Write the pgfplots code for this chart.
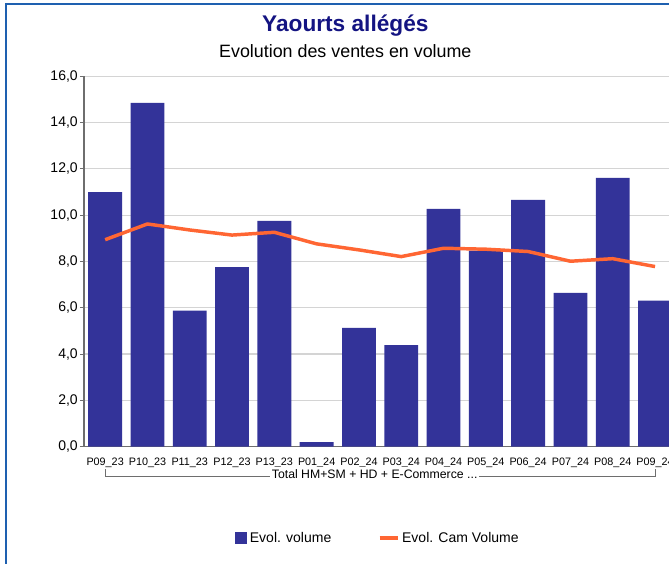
\documentclass[border=0pt]{standalone}
\usepackage{fontspec}
\setmainfont{Liberation Sans}
\usepackage{pgfplots}
\pgfplotsset{compat=1.18}
\definecolor{barblue}{RGB}{51,51,153}
\definecolor{lineorange}{RGB}{255,102,51}
\definecolor{titleblue}{RGB}{20,20,130}
\definecolor{frameblue}{RGB}{30,96,176}
\definecolor{gridgray}{RGB}{212,212,212}
\definecolor{axisgray}{RGB}{110,110,110}
\begin{document}
\begin{tikzpicture}
\useasboundingbox (0,0) rectangle (501.75pt,423pt);
\clip (0,0) rectangle (501.75pt,423pt);
\begin{axis}[
  at={(63pt,88pt)}, anchor=south west,
  scale only axis, width=438.75pt, height=277.8pt,
  xmin=-0.5, xmax=13.33, ymin=0, ymax=16,
  xtick={0,...,13},
  xticklabels={P09\_23,P10\_23,P11\_23,P12\_23,P13\_23,P01\_24,P02\_24,P03\_24,P04\_24,P05\_24,P06\_24,P07\_24,P08\_24,P09\_24},
  ytick={0,2,...,16},
  axis x line*=bottom, axis y line*=left,
  axis line style={-, axisgray, line width=0.9pt},
  x tick style={draw=none},
  y tick style={axisgray, line width=0.6pt},
  tick align=outside, major tick length=3pt,
  ymajorgrids, grid style={gridgray, line width=0.9pt},
  /pgf/number format/.cd, fixed, fixed zerofill, precision=1, use comma, assume math mode=true,
  /pgfplots/.cd,
  yticklabel style={font=\fontsize{10.5}{12}\selectfont, inner sep=1.5pt},
  xticklabel style={font=\fontsize{8.1}{9}\selectfont, yshift=-2pt},
  legend style={at={(0.503,-0.2465)}, anchor=center, draw=none, fill=none,
    font=\fontsize{10.5}{12}\selectfont, legend columns=2,
    /tikz/every even column/.append style={column sep=33pt}},
  clip=true,
]
\addplot[ybar, bar width=0.8, fill=barblue, draw=none,
  legend image code/.code={\fill[barblue] (-2.5pt,-4.5pt) rectangle (6.5pt,4.5pt);}]
  coordinates {(0,11.0) (1,14.85) (2,5.88) (3,7.76) (4,9.75) (5,0.2) (6,5.13) (7,4.39) (8,10.27) (9,8.47) (10,10.66) (11,6.64) (12,11.61) (13,6.31)};
\addlegendentry{Evol. volume}
\addplot[lineorange, line width=2.6pt, line join=round, mark=none,
  legend image code/.code={\draw[lineorange, line width=2.6pt] (0pt,0pt) -- (13.5pt,0pt);}]
  coordinates {(0,8.94) (1,9.62) (2,9.36) (3,9.14) (4,9.26) (5,8.76) (6,8.5) (7,8.21) (8,8.57) (9,8.53) (10,8.43) (11,8.01) (12,8.12) (13,7.78)};
\addlegendentry{Evol. Cam Volume}
\end{axis}
% group bracket
\draw[axisgray, line width=0.6pt] (78.75pt,71.25pt) -- (78.75pt,66pt) -- (491.25pt,66pt) -- (491.25pt,71.25pt);
\node[fill=white, inner sep=1.5pt, font=\fontsize{9.2}{11}\selectfont] at (281pt,67.5pt) {Total HM+SM + HD + E-Commerce ...};
% titles
\node[font=\fontsize{17}{20}\selectfont\bfseries, text=titleblue] at (259pt,403.5pt) {Yaourts allégés};
\node[font=\fontsize{13.4}{16}\selectfont] at (259pt,385pt) {Evolution des ventes en volume};
% frame
\draw[frameblue, line width=1.6pt] (4.5pt,-2pt) -- (4.5pt,420.2pt) -- (505pt,420.2pt);
\end{tikzpicture}
\end{document}
